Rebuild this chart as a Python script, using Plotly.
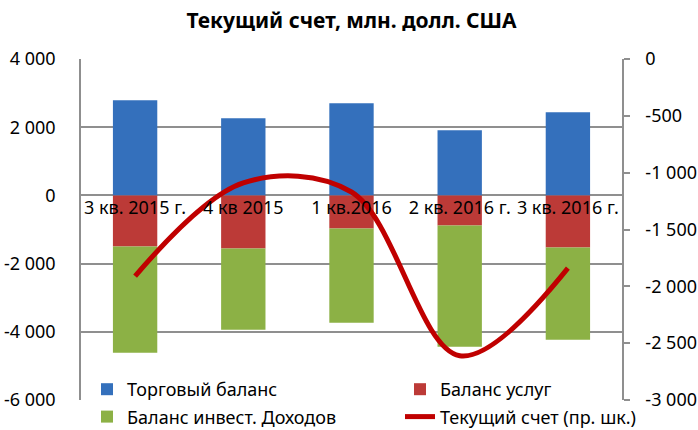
import plotly.graph_objects as go

categories = ["3 кв. 2015 г.", "4 кв 2015", "1 кв.2016", "2 кв. 2016 г.", "3 кв. 2016 г."]
trade = [2790, 2265, 2700, 1910, 2440]
services = [-1500, -1560, -970, -880, -1530]
invest = [-3115, -2380, -2765, -3560, -2700]
current = [-1910, -1090, -1170, -2610, -1840]

left_vals = [4000, 2000, 0, -2000, -4000, -6000]
left_text = ["4 000", "2 000", "0", "-2 000", "-4 000", "-6 000"]
right_vals = [0, -500, -1000, -1500, -2000, -2500, -3000]
right_text = ["0", "-500", "-1 000", "-1 500", "-2 000", "-2 500", "-3 000"]

FONT = "Noto Sans"
GRID = "#8f8f8f"
FS = 18

fig = go.Figure()
fig.add_trace(go.Bar(x=categories, y=trade, name="Торговый баланс",
                     legend="legend", legendgroup="a",
                     marker=dict(color="#3470BC", line=dict(width=0))))
fig.add_trace(go.Bar(x=categories, y=services, name="Баланс услуг",
                     legend="legend2", legendgroup="b",
                     marker=dict(color="#BC3A37", line=dict(width=0))))
fig.add_trace(go.Bar(x=categories, y=invest, name="Баланс инвест. Доходов",
                     legend="legend", legendgroup="c",
                     marker=dict(color="#8CB145", line=dict(width=0))))
fig.add_trace(go.Scatter(x=categories, y=current, name="Текущий счет (пр. шк.)",
                         yaxis="y2", mode="lines", legend="legend2", legendgroup="d",
                         line=dict(color="#C00000", width=5, shape="spline", smoothing=1.0)))

legend_common = dict(orientation="v", xref="container", yref="container",
                     xanchor="left", yanchor="top", bgcolor="rgba(0,0,0,0)",
                     traceorder="grouped", tracegroupgap=1,
                     font=dict(family=FONT, size=FS, color="#000000"))

fig.update_layout(
    width=698, height=430,
    margin=dict(l=81, r=76, t=59, b=30, autoexpand=False),
    paper_bgcolor="white", plot_bgcolor="white",
    barmode="relative", bargap=0.59,
    font=dict(family=FONT, size=FS, color="#000000"),
    title=dict(text="<b>Текущий счет, млн. долл. США</b>", x=0.5, xanchor="center",
               xref="paper", y=1 - 21/430, yanchor="middle",
               font=dict(family=FONT, size=21, color="#000000")),
    xaxis=dict(anchor="free", position=0.6, showline=False, showgrid=False,
               ticks="", tickfont=dict(size=FS), range=[-0.5, 4.5], automargin=False),
    yaxis=dict(range=[-6000, 4000], tickvals=left_vals, ticktext=left_text,
               showgrid=True, gridcolor=GRID, gridwidth=1.5,
               showline=True, linecolor=GRID, linewidth=1.5, zeroline=False,
               ticks="", tickfont=dict(size=FS), ticklabelstandoff=20, automargin=False),
    yaxis2=dict(range=[-3000, 0], tickvals=right_vals, ticktext=right_text,
                overlaying="y", side="right", showgrid=False,
                showline=True, linecolor=GRID, linewidth=1.5, zeroline=False,
                ticks="outside", ticklen=6, tickcolor=GRID, tickwidth=1.5,
                tickfont=dict(size=FS), ticklabelstandoff=12, automargin=False),
    legend=dict(x=87/698, y=1 - 371/430, **legend_common),
    legend2=dict(x=400/698, y=1 - 371/430, **legend_common),
    showlegend=True,
)

fig.write_html("out.html", config={"displayModeBar": False},
               post_script="document.body.style.margin='0';")
